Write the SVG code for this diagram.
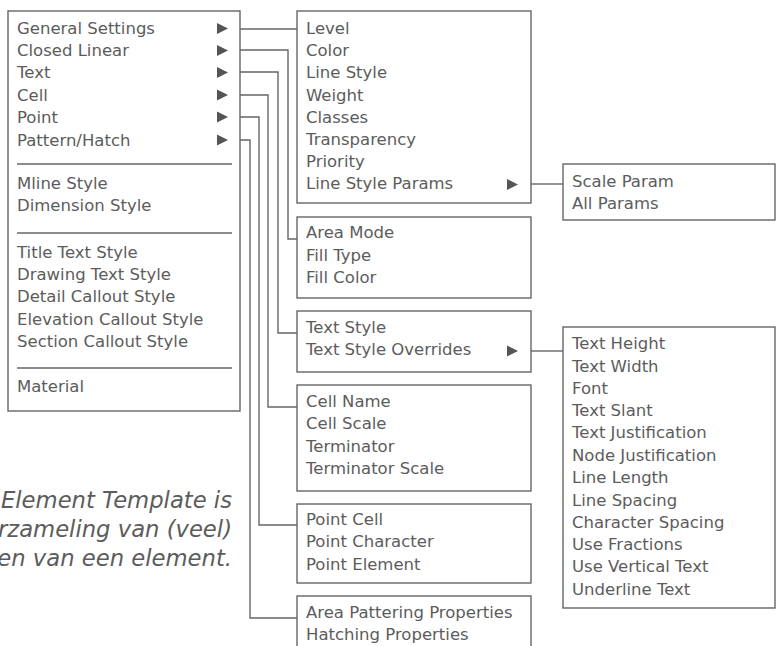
<svg xmlns="http://www.w3.org/2000/svg" width="777" height="646" viewBox="0 0 777 646">
<style>
.box{fill:#fff;stroke:#666;stroke-width:1.4}
.sep{stroke:#666;stroke-width:1.4}
.t{font-family:"DejaVu Sans","Liberation Sans",sans-serif;font-size:16.5px;fill:#5c5c5c}
.it{font-family:"DejaVu Sans","Liberation Sans",sans-serif;font-size:22.7px;font-style:italic;fill:#5c5c5c;text-anchor:end}
.tri{fill:#555}
.c{fill:none;stroke:#666;stroke-width:1.4}
</style>
<rect width="777" height="646" fill="#fff"/>
<g id="connectors">
<path class="c" d="M240,29H297"/>
<path class="c" d="M240,50H288V239H297"/>
<path class="c" d="M240,72H278V333H297"/>
<path class="c" d="M240,95H268V407H297"/>
<path class="c" d="M240,117H259V525H297"/>
<path class="c" d="M240,140H250V618H297"/>
<path class="c" d="M531,184H563"/>
<path class="c" d="M531,351H563"/>
</g>
<g id="main-menu">
<rect class="box" x="8" y="11" width="232" height="400"/>
<text class="t" x="17" y="34">General Settings</text>
<text class="t" x="17" y="56">Closed Linear</text>
<text class="t" x="17" y="78">Text</text>
<text class="t" x="17" y="101">Cell</text>
<text class="t" x="17" y="123">Point</text>
<text class="t" x="17" y="146">Pattern/Hatch</text>
<path class="tri" d="M217,23L228,28.5L217,34Z"/>
<path class="tri" d="M217,45L228,50.5L217,56Z"/>
<path class="tri" d="M217,67L228,72.5L217,78Z"/>
<path class="tri" d="M217,89.5L228,95L217,100.5Z"/>
<path class="tri" d="M217,111.5L228,117L217,122.5Z"/>
<path class="tri" d="M217,134.5L228,140L217,145.5Z"/>
<line class="sep" x1="17" y1="164" x2="232" y2="164"/>
<text class="t" x="17" y="189">Mline Style</text>
<text class="t" x="17" y="211">Dimension Style</text>
<line class="sep" x1="17" y1="233" x2="232" y2="233"/>
<text class="t" x="17" y="258">Title Text Style</text>
<text class="t" x="17" y="280">Drawing Text Style</text>
<text class="t" x="17" y="302">Detail Callout Style</text>
<text class="t" x="17" y="325">Elevation Callout Style</text>
<text class="t" x="17" y="347">Section Callout Style</text>
<line class="sep" x1="17" y1="368" x2="232" y2="368"/>
<text class="t" x="17" y="392">Material</text>
</g>
<g id="general-settings">
<rect class="box" x="297" y="11" width="234" height="192"/>
<text class="t" x="306" y="34">Level</text>
<text class="t" x="306" y="56">Color</text>
<text class="t" x="306" y="78">Line Style</text>
<text class="t" x="306" y="101">Weight</text>
<text class="t" x="306" y="123">Classes</text>
<text class="t" x="306" y="145">Transparency</text>
<text class="t" x="306" y="167">Priority</text>
<text class="t" x="306" y="189">Line Style Params</text>
<path class="tri" d="M507,179L518,184.5L507,190Z"/>
</g>
<g id="line-style-params">
<rect class="box" x="563" y="164" width="212" height="56"/>
<text class="t" x="572" y="187">Scale Param</text>
<text class="t" x="572" y="209">All Params</text>
</g>
<g id="closed-linear">
<rect class="box" x="297" y="217" width="234" height="81"/>
<text class="t" x="306" y="238">Area Mode</text>
<text class="t" x="306" y="261">Fill Type</text>
<text class="t" x="306" y="283">Fill Color</text>
</g>
<g id="text">
<rect class="box" x="297" y="311" width="234" height="61"/>
<text class="t" x="306" y="333">Text Style</text>
<text class="t" x="306" y="355">Text Style Overrides</text>
<path class="tri" d="M507,345.5L518,351L507,356.5Z"/>
</g>
<g id="text-style-overrides">
<rect class="box" x="563" y="327" width="212" height="281"/>
<text class="t" x="572" y="349">Text Height</text>
<text class="t" x="572" y="372">Text Width</text>
<text class="t" x="572" y="394">Font</text>
<text class="t" x="572" y="416">Text Slant</text>
<text class="t" x="572" y="438">Text Justification</text>
<text class="t" x="572" y="461">Node Justification</text>
<text class="t" x="572" y="483">Line Length</text>
<text class="t" x="572" y="506">Line Spacing</text>
<text class="t" x="572" y="528">Character Spacing</text>
<text class="t" x="572" y="550">Use Fractions</text>
<text class="t" x="572" y="572">Use Vertical Text</text>
<text class="t" x="572" y="595">Underline Text</text>
</g>
<g id="cell">
<rect class="box" x="297" y="385" width="234" height="106"/>
<text class="t" x="306" y="407">Cell Name</text>
<text class="t" x="306" y="429">Cell Scale</text>
<text class="t" x="306" y="452">Terminator</text>
<text class="t" x="306" y="474">Terminator Scale</text>
</g>
<g id="point">
<rect class="box" x="297" y="504" width="234" height="79"/>
<text class="t" x="306" y="525">Point Cell</text>
<text class="t" x="306" y="547">Point Character</text>
<text class="t" x="306" y="570">Point Element</text>
</g>
<g id="pattern-hatch">
<rect class="box" x="297" y="596" width="234" height="60"/>
<text class="t" x="306" y="618">Area Pattering Properties</text>
<text class="t" x="306" y="640">Hatching Properties</text>
</g>
<g id="note">
<text class="it" x="232" y="508">Element Template is</text>
<text class="it" x="232" y="537">rzameling van (veel)</text>
<text class="it" x="232" y="566">en van een element.</text>
</g>
</svg>
